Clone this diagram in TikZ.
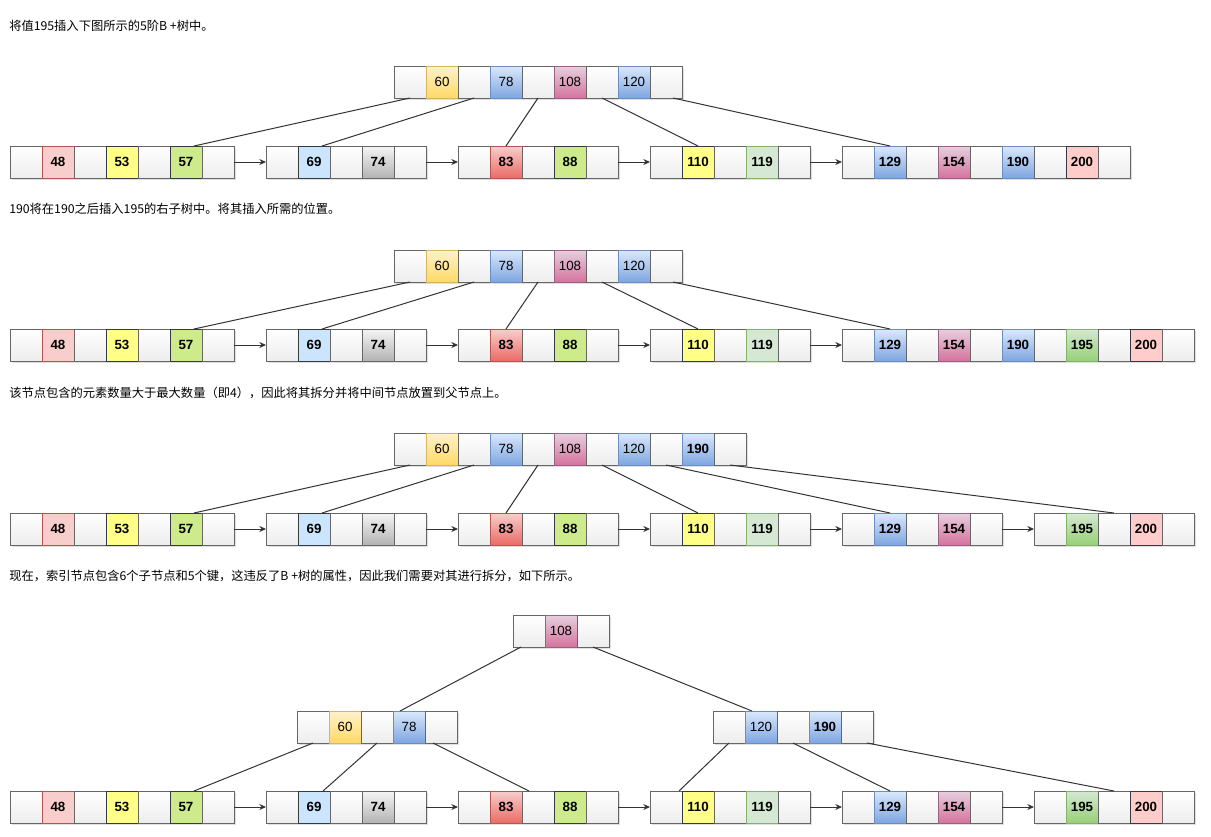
\documentclass[tikz,border=0pt]{standalone}
\usepackage{fontspec}
\setmainfont{Liberation Sans}
\newfontfamily\cjk{Noto Sans CJK SC}
\usetikzlibrary{arrows.meta, calc, shadows}
\definecolor{cellLine}{HTML}{666666}
\definecolor{darkLine}{HTML}{36393D}
\definecolor{pinkFill}{HTML}{F8CECC}
\definecolor{pinkLine}{HTML}{B85450}
\definecolor{yelFill}{HTML}{FFFF88}
\definecolor{limeFill}{HTML}{CDEB8B}
\definecolor{skyFill}{HTML}{CCE5FF}
\definecolor{greyTop}{HTML}{F5F5F5}
\definecolor{greyBot}{HTML}{B3B3B3}
\definecolor{redBot}{HTML}{EA6B66}
\definecolor{mintFill}{HTML}{D5E8D4}
\definecolor{mintLine}{HTML}{82B366}
\definecolor{blueTop}{HTML}{DAE8FC}
\definecolor{blueBot}{HTML}{7EA6E0}
\definecolor{blueLine}{HTML}{6C8EBF}
\definecolor{mauveTop}{HTML}{E6D0DE}
\definecolor{mauveBot}{HTML}{D5739D}
\definecolor{mauveLine}{HTML}{996185}
\definecolor{greenBot}{HTML}{97D077}
\definecolor{roseFill}{HTML}{FFCCCC}
\definecolor{goldTop}{HTML}{FFF2CC}
\definecolor{goldBot}{HTML}{FFD966}
\definecolor{goldLine}{HTML}{D6B656}
\definecolor{linkLine}{HTML}{333333}
\tikzset{
    cell/.style={
        rectangle,
        draw=cellLine,
        line width=0.75pt,
        top color=white,
        bottom color=black!7,
        minimum width=24pt,
        minimum height=24pt,
        inner sep=0pt,
        outer sep=0pt,
        font=\fontsize{10}{12}\selectfont,
        drop shadow={shadow xshift=1.5pt, shadow yshift=-1.8pt, opacity=0.25}
    },
    leaf/.style={font=\fontsize{10}{12}\selectfont\bfseries},
    ptr/.style={},
    pink/.style={top color=pinkFill, bottom color=pinkFill, draw=pinkLine},
    yel/.style={top color=yelFill, bottom color=yelFill, draw=darkLine},
    lime/.style={top color=limeFill, bottom color=limeFill, draw=darkLine},
    sky/.style={top color=skyFill, bottom color=skyFill, draw=darkLine},
    grey/.style={top color=greyTop, bottom color=greyBot, draw=cellLine},
    red/.style={top color=pinkFill, bottom color=redBot, draw=pinkLine},
    mint/.style={top color=mintFill, bottom color=mintFill, draw=mintLine},
    blue/.style={top color=blueTop, bottom color=blueBot, draw=blueLine},
    mauve/.style={top color=mauveTop, bottom color=mauveBot, draw=mauveLine},
    green/.style={top color=mintFill, bottom color=greenBot, draw=mintLine},
    rose/.style={top color=roseFill, bottom color=roseFill, draw=darkLine},
    gold/.style={top color=goldTop, bottom color=goldBot, draw=goldLine},
    link/.style={draw=linkLine, line width=0.75pt},
    nextarrow/.style={-{Stealth[length=5pt,width=4.5pt]}, draw=linkLine, line width=0.75pt},
    caption/.style={anchor=west, inner sep=0pt, font=\cjk\fontsize{9.2}{11}\selectfont}
}
% one B+ tree node: [style] name, left x, top y, cells
\newcommand{\keynode}[5][]{%
    \foreach [count=\i] \sty/\val in {#5} {
        \node[cell, #1, \sty] (#2-\i) at ({#3+32*\i-16}, {#4+16}) {\val};
    }
}

\begin{document}
\begin{tikzpicture}[x=0.75pt,y=-0.75pt]
    \useasboundingbox (0,0) rectangle (1211,836);

    % ---- step 1
    \node[caption] (cap1) at (9,26) {将值195插入下图所示的5阶B +树中。};
    \keynode{top1}{394}{66}{ptr/{},gold/60,ptr/{},blue/78,ptr/{},mauve/108,ptr/{},blue/120,ptr/{}}
    \keynode[leaf]{lf1a}{10}{146}{ptr/{},pink/48,ptr/{},yel/53,ptr/{},lime/57,ptr/{}}
    \keynode[leaf]{lf1b}{266}{146}{ptr/{},sky/69,ptr/{},grey/74,ptr/{}}
    \keynode[leaf]{lf1c}{458}{146}{ptr/{},red/83,ptr/{},lime/88,ptr/{}}
    \keynode[leaf]{lf1d}{650}{146}{ptr/{},yel/110,ptr/{},mint/119,ptr/{}}
    \keynode[leaf]{lf1e}{842}{146}{ptr/{},blue/129,ptr/{},mauve/154,ptr/{},blue/190,ptr/{},rose/200,ptr/{}}
    \draw[link] (top1-1.south) -- ($(lf1a-6.north)+(8,0)$);
    \draw[link] (top1-3.south) -- ($(lf1b-2.north)+(8,0)$);
    \draw[link] (top1-5.south) -- (lf1c-2.north);
    \draw[link] (top1-7.south) -- (lf1d-2.north);
    \draw[link] ($(top1-9.south)+(7,0)$) -- (lf1e-2.north);
    \draw[nextarrow] (lf1a-7.east) -- (lf1b-1.west);
    \draw[nextarrow] (lf1b-5.east) -- (lf1c-1.west);
    \draw[nextarrow] (lf1c-5.east) -- (lf1d-1.west);
    \draw[nextarrow] (lf1d-5.east) -- (lf1e-1.west);

    % ---- step 2
    \node[caption] (cap2) at (9,209) {190将在190之后插入195的右子树中。将其插入所需的位置。};
    \keynode{top2}{394}{250}{ptr/{},gold/60,ptr/{},blue/78,ptr/{},mauve/108,ptr/{},blue/120,ptr/{}}
    \keynode[leaf]{lf2a}{10}{329}{ptr/{},pink/48,ptr/{},yel/53,ptr/{},lime/57,ptr/{}}
    \keynode[leaf]{lf2b}{266}{329}{ptr/{},sky/69,ptr/{},grey/74,ptr/{}}
    \keynode[leaf]{lf2c}{458}{329}{ptr/{},red/83,ptr/{},lime/88,ptr/{}}
    \keynode[leaf]{lf2d}{650}{329}{ptr/{},yel/110,ptr/{},mint/119,ptr/{}}
    \keynode[leaf]{lf2e}{842}{329}{ptr/{},blue/129,ptr/{},mauve/154,ptr/{},blue/190,ptr/{},green/195,ptr/{},rose/200,ptr/{}}
    \draw[link] (top2-1.south) -- ($(lf2a-6.north)+(8,0)$);
    \draw[link] (top2-3.south) -- ($(lf2b-2.north)+(8,0)$);
    \draw[link] (top2-5.south) -- (lf2c-2.north);
    \draw[link] (top2-7.south) -- (lf2d-2.north);
    \draw[link] ($(top2-9.south)+(7,0)$) -- (lf2e-2.north);
    \draw[nextarrow] (lf2a-7.east) -- (lf2b-1.west);
    \draw[nextarrow] (lf2b-5.east) -- (lf2c-1.west);
    \draw[nextarrow] (lf2c-5.east) -- (lf2d-1.west);
    \draw[nextarrow] (lf2d-5.east) -- (lf2e-1.west);

    % ---- step 3
    \node[caption] (cap3) at (9,393) {该节点包含的元素数量大于最大数量（即4），因此将其拆分并将中间节点放置到父节点上。};
    \keynode{top3}{394}{433}{ptr/{},gold/60,ptr/{},blue/78,ptr/{},mauve/108,ptr/{},blue/120,ptr/{},blue/\textbf{190},ptr/{}}
    \keynode[leaf]{lf3a}{10}{513}{ptr/{},pink/48,ptr/{},yel/53,ptr/{},lime/57,ptr/{}}
    \keynode[leaf]{lf3b}{266}{513}{ptr/{},sky/69,ptr/{},grey/74,ptr/{}}
    \keynode[leaf]{lf3c}{458}{513}{ptr/{},red/83,ptr/{},lime/88,ptr/{}}
    \keynode[leaf]{lf3d}{650}{513}{ptr/{},yel/110,ptr/{},mint/119,ptr/{}}
    \keynode[leaf]{lf3e}{842}{513}{ptr/{},blue/129,ptr/{},mauve/154,ptr/{}}
    \keynode[leaf]{lf3f}{1034}{513}{ptr/{},green/195,ptr/{},rose/200,ptr/{}}
    \draw[link] (top3-1.south) -- ($(lf3a-6.north)+(8,0)$);
    \draw[link] (top3-3.south) -- ($(lf3b-2.north)+(8,0)$);
    \draw[link] (top3-5.south) -- (lf3c-2.north);
    \draw[link] (top3-7.south) -- (lf3d-2.north);
    \draw[link] (top3-9.south) -- (lf3e-2.north);
    \draw[link] (top3-11.south) -- (lf3f-3.north);
    \draw[nextarrow] (lf3a-7.east) -- (lf3b-1.west);
    \draw[nextarrow] (lf3b-5.east) -- (lf3c-1.west);
    \draw[nextarrow] (lf3c-5.east) -- (lf3d-1.west);
    \draw[nextarrow] (lf3d-5.east) -- (lf3e-1.west);
    \draw[nextarrow] (lf3e-5.east) -- (lf3f-1.west);

    % ---- step 4
    \node[caption] (cap4) at (9,576) {现在，索引节点包含6个子节点和5个键，这违反了B +树的属性，因此我们需要对其进行拆分，如下所示。};
    \keynode{top4}{513}{615}{ptr/{},mauve/108,ptr/{}}
    \keynode{lft4}{297}{711}{ptr/{},gold/60,ptr/{},blue/78,ptr/{}}
    \keynode{rgt4}{713}{711}{ptr/{},blue/120,ptr/{},blue/\textbf{190},ptr/{}}
    \keynode[leaf]{lf4a}{10}{791}{ptr/{},pink/48,ptr/{},yel/53,ptr/{},lime/57,ptr/{}}
    \keynode[leaf]{lf4b}{266}{791}{ptr/{},sky/69,ptr/{},grey/74,ptr/{}}
    \keynode[leaf]{lf4c}{458}{791}{ptr/{},red/83,ptr/{},lime/88,ptr/{}}
    \keynode[leaf]{lf4d}{650}{791}{ptr/{},yel/110,ptr/{},mint/119,ptr/{}}
    \keynode[leaf]{lf4e}{842}{791}{ptr/{},blue/129,ptr/{},mauve/154,ptr/{}}
    \keynode[leaf]{lf4f}{1034}{791}{ptr/{},green/195,ptr/{},rose/200,ptr/{}}
    \draw[link] ($(top4-1.south)+(-8,0)$) -- ($(lft4-4.north)+(-9,0)$);
    \draw[link] (top4-3.south) -- ($(rgt4-2.north)+(-9,0)$);
    \draw[link] (lft4-1.south) -- ($(lf4a-6.north)+(8,0)$);
    \draw[link] (lft4-3.south) -- ($(lf4b-2.north)+(9,0)$);
    \draw[link] ($(lft4-5.south)+(-8,0)$) -- ($(lf4c-3.north)+(-9,0)$);
    \draw[link] (rgt4-1.south) -- ($(lf4d-2.north)+(-19,0)$);
    \draw[link] (rgt4-3.south) -- (lf4e-2.north);
    \draw[link] ($(rgt4-5.south)+(10,0)$) -- (lf4f-3.north);
    \draw[nextarrow] (lf4a-7.east) -- (lf4b-1.west);
    \draw[nextarrow] (lf4b-5.east) -- (lf4c-1.west);
    \draw[nextarrow] (lf4c-5.east) -- (lf4d-1.west);
    \draw[nextarrow] (lf4d-5.east) -- (lf4e-1.west);
    \draw[nextarrow] (lf4e-5.east) -- (lf4f-1.west);
\end{tikzpicture}
\end{document}
